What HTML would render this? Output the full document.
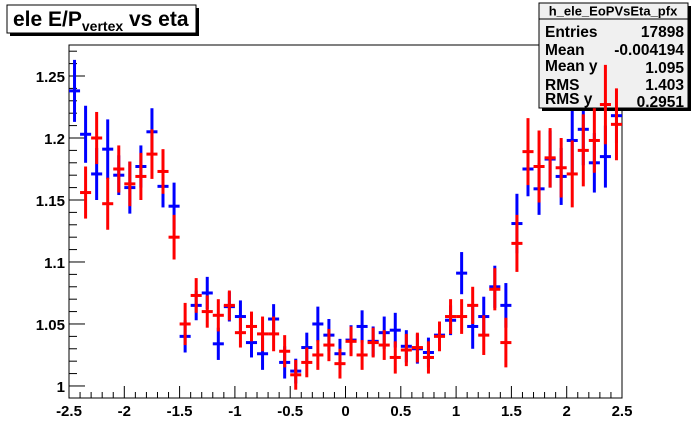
<!DOCTYPE html>
<html><head><meta charset="utf-8"><style>
html,body{margin:0;padding:0;background:#fff;}
svg{display:block;font-family:"Liberation Sans",Arial,sans-serif;}
</style></head><body>
<svg id="chart" width="692" height="444" viewBox="0 0 692 444" xmlns="http://www.w3.org/2000/svg">
<rect x="0" y="0" width="692" height="444" fill="#fff"/>
<g id="axes"></g>
<g id="blue"></g>
<g>
<rect x="542" y="6" width="149" height="105" fill="#000"/>
<rect x="539" y="3" width="149" height="105" fill="#f0f0f0" stroke="#000" stroke-width="1"/>
<line x1="539" y1="19" x2="688" y2="19" stroke="#000"/>
<text x="613" y="15.5" text-anchor="middle" font-size="13" font-weight="bold">h_ele_EoPVsEta_pfx</text>
<g font-size="15.5" font-weight="bold">
<text x="545" y="37">Entries</text><text x="684" y="37" text-anchor="end">17898</text>
<text x="545" y="55">Mean</text><text x="684" y="55" text-anchor="end">-0.004194</text>
<text x="545" y="71">Mean y</text><text x="684" y="73" text-anchor="end">1.095</text>
<text x="545" y="90">RMS</text><text x="684" y="90" text-anchor="end">1.403</text>
<text x="545" y="104">RMS y</text><text x="684" y="107" text-anchor="end">0.2951</text>
</g></g>
<g id="red"></g>
<g>
<rect x="10" y="8" width="189" height="28" fill="#000"/>
<rect x="7" y="5" width="189" height="28" fill="#fff" stroke="#000"/>
<text x="13" y="26" font-size="21" font-weight="bold">ele E/P<tspan font-size="14" dy="5">vertex</tspan><tspan dy="-5"> vs eta</tspan></text>
</g>
</svg>
<script>
const blueValues=[1.238,1.203,1.171,1.191,1.170,1.160,1.177,1.205,1.161,1.145,1.040,1.065,1.075,1.034,1.064,1.056,1.035,1.026,1.054,1.019,1.012,1.031,1.050,1.041,1.026,1.037,1.048,1.036,1.043,1.045,1.032,1.030,1.027,1.041,1.053,1.091,1.048,1.056,1.080,1.065,1.131,1.175,1.159,1.183,1.169,1.198,1.207,1.180,1.185,1.218];
const redValues=[null,1.156,1.200,1.147,1.175,1.163,1.169,1.187,1.173,1.120,1.050,1.073,1.060,1.057,1.065,1.043,1.048,1.042,1.042,1.028,1.009,1.019,1.025,1.033,1.018,1.036,1.025,1.035,1.033,1.023,1.029,1.031,1.023,1.040,1.056,1.056,1.065,1.041,1.078,1.035,1.115,1.189,1.177,1.184,1.176,1.171,1.190,1.198,1.227,1.211];
const blueErrors=[0.025,0.023,0.021,0.024,0.016,0.021,0.017,0.019,0.017,0.019,0.013,0.012,0.013,0.013,0.012,0.013,0.012,0.013,0.012,0.013,0.010,0.012,0.014,0.013,0.012,0.012,0.013,0.012,0.013,0.014,0.013,0.012,0.012,0.011,0.012,0.017,0.018,0.016,0.017,0.018,0.024,0.022,0.021,0.023,0.023,0.027,0.029,0.024,0.025,0.022];
const redErrors=[0,0.021,0.021,0.021,0.019,0.018,0.019,0.020,0.018,0.018,0.017,0.014,0.013,0.013,0.012,0.012,0.012,0.014,0.014,0.013,0.012,0.012,0.012,0.013,0.012,0.012,0.012,0.012,0.012,0.013,0.013,0.012,0.013,0.012,0.014,0.014,0.015,0.016,0.017,0.020,0.023,0.027,0.029,0.024,0.024,0.027,0.029,0.026,0.032,0.029];
const xTickLabels=["-2.5","-2","-1.5","-1","-0.5","0","0.5","1","1.5","2","2.5"];
const yTickLabels=["1","1.05","1.1","1.15","1.2","1.25"];
const NS="http://www.w3.org/2000/svg";
const L=69,R=622,T=45,B=398,XMIN=-2.5,XMAX=2.5,YMIN=0.9903,YMAX=1.2750;
function xs(v){return L+(v-XMIN)/(XMAX-XMIN)*(R-L);}
function ys(v){return B-(v-YMIN)/(YMAX-YMIN)*(B-T);}
function mk(p,tag,a){const e=document.createElementNS(NS,tag);for(const k in a)e.setAttribute(k,a[k]);p.appendChild(e);return e;}
const ax=document.getElementById('axes');
const frame=mk(ax,'rect',{x:L,y:T,width:R-L,height:B-T,fill:'none',stroke:'#000','stroke-width':1});


for(let i=0;i<=50;i++){const v=XMIN+i*0.1;const x=xs(v);const maj=i%5==0;
 const t=mk(ax,'line',{x1:x,y1:B,x2:x,y2:B-(maj?12:6),stroke:'#000'});
 
 }
xTickLabels.forEach(s=>{const t=mk(ax,'text',{x:xs(parseFloat(s)),y:416,'text-anchor':'middle','font-size':15,'font-weight':'bold'});t.textContent=s;
 
 });
for(let i=0;i<=28;i++){const v=1+i*0.01;if(v>YMAX)break;const y=ys(v);const maj=i%5==0;
 const t=mk(ax,'line',{x1:L,y1:y,x2:L+(maj?16:8),y2:y,stroke:'#000'});
 
 }
yTickLabels.forEach(s=>{const t=mk(ax,'text',{x:65,y:ys(parseFloat(s))+6,'text-anchor':'end','font-size':15,'font-weight':'bold'});t.textContent=s;
 
 });
function draw(gid,vals,errs,col,name){const g=document.getElementById(gid);
 vals.forEach((v,i)=>{if(v===null)return;const xc=XMIN+(i+0.5)*0.1;const x=xs(xc),y=ys(v);
  const grp=mk(g,'g',{});
  
  
  mk(grp,'line',{x1:x,y1:ys(v+errs[i]),x2:x,y2:ys(v-errs[i]),stroke:col,'stroke-width':3});
  mk(grp,'line',{x1:xs(xc-0.05),y1:y,x2:xs(xc+0.05),y2:y,stroke:col,'stroke-width':3});});}
draw('blue',blueValues,blueErrors,'#0000ff','blue');
draw('red',redValues,redErrors,'#ff0000','red');
</script>
</body></html>
